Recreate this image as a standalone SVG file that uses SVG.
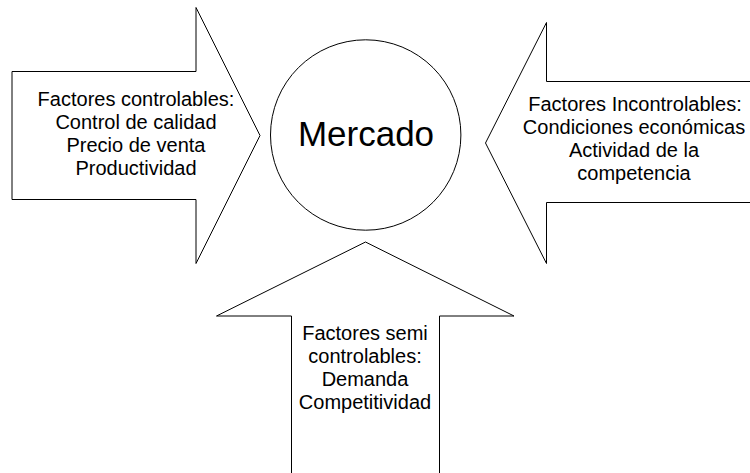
<svg xmlns="http://www.w3.org/2000/svg" width="750" height="473" viewBox="0 0 750 473">
<style>
.shape{fill:#ffffff;stroke:#000000;stroke-width:1}
.t{font-family:"Liberation Sans",Arial,sans-serif;font-size:20px;fill:#000000;text-anchor:middle}
.big{font-family:"Liberation Sans",Arial,sans-serif;font-size:35px;fill:#000000;text-anchor:middle}
</style>
<rect x="0" y="0" width="750" height="473" fill="#ffffff"/>
<g id="connectors"></g>
<g id="left-arrow">
<polygon class="shape" points="12,71.5 196,71.5 196,7.5 260,135.5 196,263.5 196,199.5 12,199.5"/>
<text class="t" x="136" y="105.5">Factores controlables:</text>
<text class="t" x="136" y="128.5">Control de calidad</text>
<text class="t" x="136" y="151.5">Precio de venta</text>
<text class="t" x="136" y="174.5">Productividad</text>
</g>
<g id="right-arrow">
<polygon class="shape" points="752,81.5 546.5,81.5 546.5,22.5 485.5,143 546.5,263.5 546.5,202.5 752,202.5"/>
<text class="t" x="635" y="111">Factores Incontrolables:</text>
<text class="t" x="634" y="134">Condiciones económicas</text>
<text class="t" x="634" y="157">Actividad de la</text>
<text class="t" x="634" y="180">competencia</text>
</g>
<g id="bottom-arrow">
<polygon class="shape" points="291.5,480 291.5,316 216.5,316 365.5,242 514,316 439.5,316 439.5,480"/>
<text class="t" x="365" y="340">Factores semi</text>
<text class="t" x="365" y="363">controlables:</text>
<text class="t" x="365" y="386">Demanda</text>
<text class="t" x="365" y="409">Competitividad</text>
</g>
<g id="mercado">
<circle class="shape" cx="365.7" cy="135" r="95.2"/>
<text class="big" x="366" y="146">Mercado</text>
</g>
</svg>
